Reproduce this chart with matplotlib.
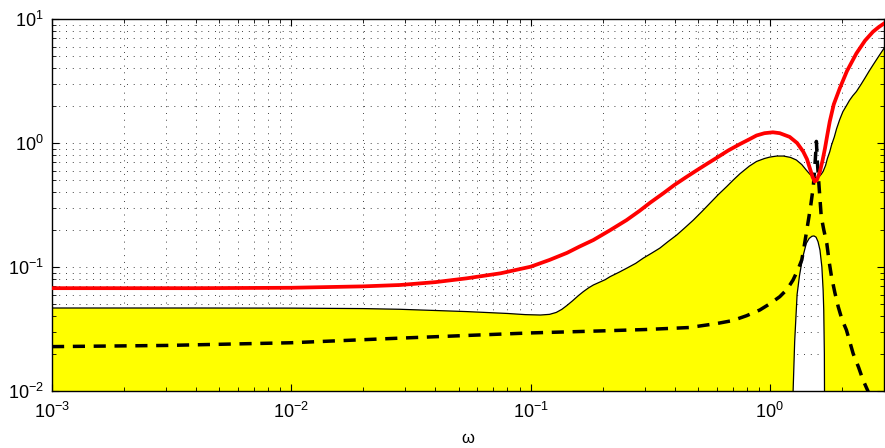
import matplotlib
matplotlib.use("Agg")
import matplotlib.pyplot as plt

plt.rcParams['font.family'] = ['Liberation Sans', 'DejaVu Sans']
plt.rcParams['mathtext.fontset'] = 'custom'
plt.rcParams['mathtext.rm'] = 'Liberation Sans'
plt.rcParams['mathtext.it'] = 'Liberation Sans:italic'

# Upper boundary of the admissible (yellow) region
omega_upper = [0.001, 0.004, 0.01, 0.02, 0.0285, 0.054, 0.08, 0.095, 0.11, 0.12,
               0.128, 0.135, 0.142, 0.15, 0.158, 0.166, 0.175, 0.183, 0.193, 0.205,
               0.215, 0.235, 0.252, 0.275, 0.296, 0.32, 0.347, 0.375, 0.408, 0.44,
               0.479, 0.52, 0.562, 0.61, 0.66, 0.705, 0.75, 0.82, 0.88, 0.95,
               1.0, 1.07, 1.14, 1.22, 1.29, 1.36, 1.42, 1.47, 1.51, 1.55,
               1.58, 1.61, 1.64, 1.67, 1.71, 1.74, 1.78, 1.81, 1.86, 1.9,
               1.96, 2.02, 2.09, 2.15, 2.22, 2.3, 2.4, 2.5, 2.6, 2.7,
               2.85, 3.0]
upper_vals = [0.0467, 0.0467, 0.0466, 0.0462, 0.0456, 0.0437, 0.0422, 0.0413, 0.041, 0.0415,
              0.043, 0.0455, 0.049, 0.0535, 0.0585, 0.0632, 0.068, 0.0716, 0.075, 0.079,
              0.0836, 0.091, 0.0977, 0.107, 0.118, 0.129, 0.142, 0.16, 0.181, 0.206,
              0.239, 0.28, 0.327, 0.385, 0.445, 0.505, 0.565, 0.65, 0.71, 0.75,
              0.77, 0.785, 0.785, 0.765, 0.73, 0.67, 0.605, 0.56, 0.535, 0.525,
              0.527, 0.538, 0.56, 0.59, 0.66, 0.75, 0.85, 0.96, 1.12, 1.3,
              1.55, 1.79, 2.0, 2.2, 2.4, 2.6, 2.95, 3.35, 3.8, 4.26,
              5.0, 5.8]

# Lower boundary: a narrow excluded notch around the resonance
omega_notch = [1.24, 1.25, 1.27, 1.30, 1.33, 1.37, 1.42, 1.46, 1.50, 1.53,
               1.56, 1.59, 1.62, 1.65, 1.67, 1.68, 1.69, 1.70]
notch_vals = [0.001, 0.0095, 0.025, 0.06, 0.085, 0.118, 0.155, 0.17, 0.177, 0.178,
              0.174, 0.16, 0.137, 0.1, 0.065, 0.045, 0.02, 0.001]

# Red bound
omega_red = [0.001, 0.004, 0.01, 0.02, 0.0285, 0.04, 0.054, 0.075, 0.1, 0.12,
             0.142, 0.16, 0.183, 0.215, 0.252, 0.285, 0.316, 0.36, 0.4, 0.45,
             0.5, 0.55, 0.6, 0.67, 0.75, 0.82, 0.88, 0.95, 1.03, 1.1,
             1.21, 1.3, 1.38, 1.43, 1.47, 1.51, 1.54, 1.57, 1.60, 1.62,
             1.66, 1.70, 1.74, 1.78, 1.85, 1.96, 2.1, 2.3, 2.5, 2.7,
             2.85, 3.0]
red_vals = [0.0675, 0.0675, 0.068, 0.0698, 0.0716, 0.0755, 0.081, 0.089, 0.1005, 0.114,
            0.13, 0.146, 0.165, 0.198, 0.239, 0.283, 0.33, 0.395, 0.46, 0.535,
            0.61, 0.685, 0.76, 0.87, 0.98, 1.07, 1.15, 1.2, 1.22, 1.2,
            1.12, 1.0, 0.85, 0.74, 0.625, 0.53, 0.49, 0.5, 0.55, 0.59,
            0.72, 0.905, 1.17, 1.49, 2.05, 2.76, 3.8, 5.28, 6.7, 7.9,
            8.6, 9.2]

# Dashed response
omega_dash = [0.001, 0.003, 0.01, 0.03, 0.1, 0.195, 0.3, 0.46, 0.6, 0.7,
              0.8, 0.908, 1.0, 1.10, 1.18, 1.25, 1.31, 1.36, 1.39, 1.42,
              1.45, 1.48, 1.52, 1.55, 1.565, 1.58, 1.61, 1.64, 1.68, 1.73,
              1.77, 1.81, 1.87, 1.93, 2.0, 2.09, 2.23, 2.35, 2.45, 2.6]
dash_vals = [0.0228, 0.0233, 0.0245, 0.0268, 0.0294, 0.0305, 0.0313, 0.0325, 0.035, 0.037,
             0.0405, 0.045, 0.0505, 0.0576, 0.066, 0.0785, 0.095, 0.114, 0.145, 0.187,
             0.24, 0.306, 0.45, 0.75, 1.03, 0.7, 0.418, 0.255, 0.2, 0.155,
             0.11, 0.0836, 0.062, 0.048, 0.038, 0.031, 0.020, 0.0155, 0.0123, 0.0095]

x_lim = (1e-3, 3.0)
y_lim = (1e-2, 1e1)
floor = 1e-3

fig = plt.figure(figsize=(8.85, 4.48), dpi=100)
pos = [52 / 885, 57 / 448, 832 / 885, 372 / 448]

# Background axes carrying only the dotted grid
bg = fig.add_axes(pos, zorder=0)
bg.set_xscale('log')
bg.set_yscale('log')
bg.set_xlim(*x_lim)
bg.set_ylim(*y_lim)
grid_kw = dict(color='0.15', linewidth=0.65, linestyle=(0, (1, 6.5)))
bg.grid(True, which='both', axis='both', **grid_kw)
bg.tick_params(which='both', length=0, labelbottom=False, labelleft=False)
for s in bg.spines.values():
    s.set_visible(False)

ax = fig.add_axes(pos, zorder=1)
ax.patch.set_alpha(0)
ax.set_xscale('log')
ax.set_yscale('log')

# Yellow region: upper curve left-to-right, then lower boundary back with the notch
poly_x = list(omega_upper) + [x_lim[1]] + list(omega_notch[::-1]) + [x_lim[0]]
poly_y = list(upper_vals) + [floor] + list(notch_vals[::-1]) + [floor]
ax.fill(poly_x, poly_y, color='#ffff00', linewidth=0, zorder=1)
ax.plot(omega_upper, upper_vals, color='black', linewidth=0.9, zorder=2)
ax.plot(omega_notch, notch_vals, color='black', linewidth=0.9, zorder=2)

ax.plot(omega_dash, dash_vals, color='black', linewidth=2.5,
        linestyle=(0, (3.5, 2.5)), zorder=3)
ax.plot(omega_red, red_vals, color='#ff0000', linewidth=2.7, zorder=4,
        solid_joinstyle='round')

ax.set_xlim(*x_lim)
ax.set_ylim(*y_lim)
ax.set_xticks([1e-3, 1e-2, 1e-1, 1e0])
ax.set_yticks([1e-2, 1e-1, 1e0, 1e1])
ax.tick_params(which='both', direction='in', top=True, right=True,
               labelsize=13, colors='black')
ax.tick_params(which='major', length=5, width=0.8)
ax.tick_params(which='minor', length=2.8, width=0.6)
ax.tick_params(axis='x', pad=8)
ax.tick_params(axis='y', pad=6)
for s in ax.spines.values():
    s.set_linewidth(1.0)
ax.set_xlabel('ω', fontsize=12, labelpad=6)

fig.savefig('out.png', dpi=100)
